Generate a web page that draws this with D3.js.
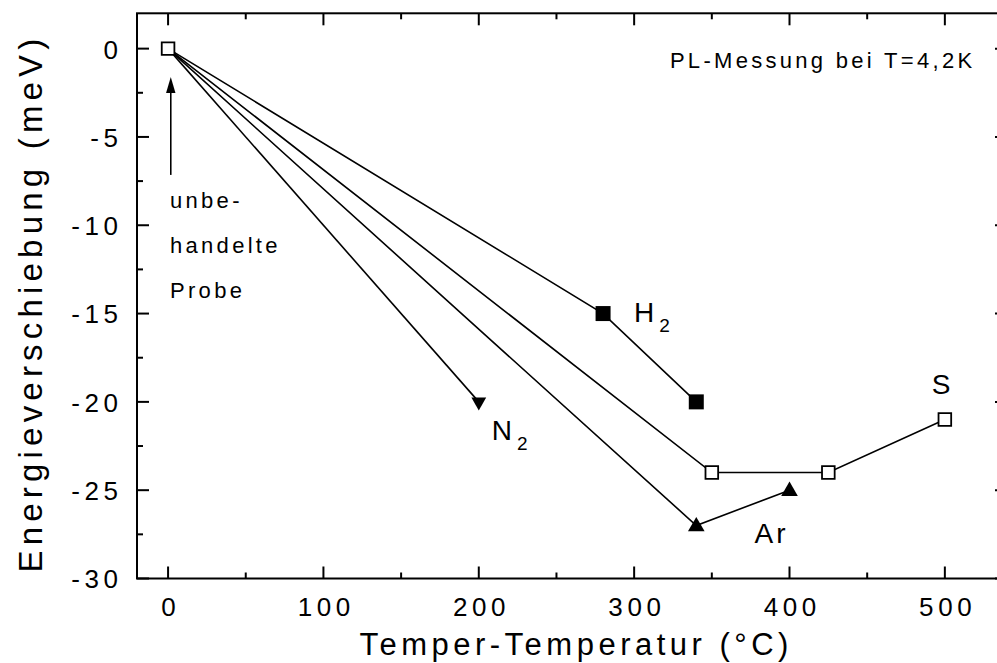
<!DOCTYPE html>
<html>
<head>
<meta charset="utf-8">
<script src="https://cdn.jsdelivr.net/npm/d3@7"></script>
<style>
  html, body { margin: 0; padding: 0; background: #fff; }
  svg { display: block; }
  text { font-family: "Liberation Sans", Arial, Helvetica, sans-serif; fill: #000; }
</style>
</head>
<body>
<svg id="chart" width="997" height="663"></svg>
<script>
// ---- data ----
const h2Temp = [0, 280, 340];
const h2Shift = [0, -15, -20];
const sTemp = [0, 350, 425, 500];
const sShift = [0, -24, -24, -21];
const arTemp = [0, 340, 400];
const arShift = [0, -27, -25];
const n2Temp = [0, 200];
const n2Shift = [0, -20];
const originPoint = [0, 0];

const xTicks = [0, 100, 200, 300, 400, 500];
const xMinorTicks = [50, 150, 250, 350, 450];
const yTicks = [0, -5, -10, -15, -20, -25, -30];
const yMinorTicks = [-2.5, -7.5, -12.5, -17.5, -22.5, -27.5];

const xTitle = "Temper-Temperatur (°C)";
const yTitle = "Energieverschiebung (meV)";
const noteText = "PL-Messung bei T=4,2K";
const sampleLabel = ["unbe-", "handelte", "Probe"];

(function () {
// ---- layout ----
const pLeft = 137, pRight = 1007, pTop = 13.3, pBottom = 578.5;
const svg = d3.select("#chart");

const x = d3.scaleLinear().domain([-20, 540]).range([pLeft, pRight]);
const y = d3.scaleLinear().domain([-30, 2]).range([pBottom, pTop]);

const majorLen = 12, minorLen = 6, axisW = 2;

// ---- frame ----
svg.append("rect")
  .attr("x", pLeft).attr("y", pTop)
  .attr("width", pRight - pLeft).attr("height", pBottom - pTop)
  .attr("fill", "none").attr("stroke", "#000").attr("stroke-width", axisW);

// ---- axes ----
const tickSize = 26, tickSpacing = 4.6;
const plainFmt = d => String(d);  // ASCII hyphen as in the reference

const xAxisB = d3.axisBottom(x).tickValues(xTicks).tickSize(0).tickFormat(plainFmt);
const gxb = svg.append("g").attr("transform", `translate(0,${pBottom})`).call(xAxisB);
gxb.select(".domain").remove();
gxb.selectAll("text")
  .attr("y", 37).attr("dy", 0)
  .attr("dx", tickSpacing / 2)
  .attr("fill", "#000")
  .style("font-size", tickSize + "px")
  .style("letter-spacing", tickSpacing + "px");

const yAxisL = d3.axisLeft(y).tickValues(yTicks).tickSize(0).tickFormat(plainFmt);
const gyl = svg.append("g").attr("transform", `translate(${pLeft},0)`).call(yAxisL);
gyl.select(".domain").remove();
gyl.selectAll("text")
  .attr("x", -19 + tickSpacing).attr("dy", "0.36em")
  .attr("fill", "#000")
  .style("font-size", tickSize + "px")
  .style("letter-spacing", tickSpacing + "px");

// inward ticks on all four sides
function ticksX(vals, len) {
  vals.forEach(v => {
    svg.append("line").attr("x1", x(v)).attr("x2", x(v))
      .attr("y1", pBottom).attr("y2", pBottom - len)
      .attr("stroke", "#000").attr("stroke-width", axisW);
    svg.append("line").attr("x1", x(v)).attr("x2", x(v))
      .attr("y1", pTop).attr("y2", pTop + len)
      .attr("stroke", "#000").attr("stroke-width", axisW);
  });
}
function ticksY(vals, len) {
  vals.forEach(v => {
    svg.append("line").attr("x1", pLeft).attr("x2", pLeft + len)
      .attr("y1", y(v)).attr("y2", y(v))
      .attr("stroke", "#000").attr("stroke-width", axisW);
    svg.append("line").attr("x1", pRight).attr("x2", pRight - len)
      .attr("y1", y(v)).attr("y2", y(v))
      .attr("stroke", "#000").attr("stroke-width", axisW);
  });
}
ticksX(xTicks, majorLen);
ticksX(xMinorTicks, minorLen);
ticksY(yTicks, majorLen);
ticksY(yMinorTicks, minorLen);

// ---- axis titles ----
svg.append("text")
  .attr("x", (356 + 792) / 2 + 2.2).attr("y", 655)
  .attr("text-anchor", "middle")
  .style("font-size", "31px").style("letter-spacing", "4.5px")
  .text(xTitle);

svg.append("text")
  .attr("transform", `translate(42,${(28 + 578) / 2}) rotate(-90)`)
  .attr("text-anchor", "middle")
  .style("font-size", "33px").style("letter-spacing", "5.2px")
  .text(yTitle);

// ---- lines ----
const line = d3.line().x(d => x(d[0])).y(d => y(d[1]));
const zip = (a, b) => a.map((v, i) => [v, b[i]]);
const allSeries = [
  zip(h2Temp, h2Shift), zip(sTemp, sShift), zip(arTemp, arShift), zip(n2Temp, n2Shift)
];
allSeries.forEach(s => {
  svg.append("path").attr("d", line(s))
    .attr("fill", "none").attr("stroke", "#000").attr("stroke-width", 1.6);
});

// ---- markers ----
const sqFilled = d3.symbol(d3.symbolSquare, 225)();
const sqOpen = d3.symbol(d3.symbolSquare, 160)();
const tri = d3.symbol(d3.symbolTriangle, 120)();
const triDown = d3.symbol(d3.symbolTriangle, 95)();

zip(h2Temp, h2Shift).slice(1).forEach(d => {
  svg.append("path").attr("d", sqFilled)
    .attr("transform", `translate(${x(d[0])},${y(d[1])})`).attr("fill", "#000");
});
zip(sTemp, sShift).slice(1).forEach(d => {
  svg.append("path").attr("d", sqOpen)
    .attr("transform", `translate(${x(d[0])},${y(d[1])})`)
    .attr("fill", "#fff").attr("stroke", "#000").attr("stroke-width", 1.8);
});
zip(arTemp, arShift).slice(1).forEach(d => {
  svg.append("path").attr("d", tri)
    .attr("transform", `translate(${x(d[0])},${y(d[1]) + 1})`).attr("fill", "#000");
});
zip(n2Temp, n2Shift).slice(1).forEach(d => {
  svg.append("path").attr("d", triDown)
    .attr("transform", `translate(${x(d[0])},${y(d[1])}) rotate(180)`).attr("fill", "#000");
});
svg.append("path").attr("d", sqOpen)
  .attr("transform", `translate(${x(originPoint[0])},${y(originPoint[1])})`)
  .attr("fill", "#fff").attr("stroke", "#000").attr("stroke-width", 1.8);

// ---- series labels ----
function label(px, py, main, sub) {
  const t = svg.append("text").attr("x", px).attr("y", py)
    .style("font-size", "28px").style("letter-spacing", "3px");
  t.append("tspan").text(main);
  if (sub) {
    t.append("tspan").attr("dx", 2).attr("dy", 10).style("font-size", "19px").text(sub);
  }
}
label(x(h2Temp[1]) + 31, y(h2Shift[1]) + 8, "H", "2");
label(x(n2Temp[1]) + 13, y(n2Shift[1]) + 38, "N", "2");
label(x(sTemp[3]) - 13, y(sShift[3]) - 26, "S");
label(x(arTemp[2]) - 35, y(arShift[2]) + 53, "Ar");

// ---- annotations ----
svg.append("text")
  .attr("x", x(323)).attr("y", y(0) + 19.5)
  .style("font-size", "22px").style("letter-spacing", "3.3px")
  .text(noteText);

sampleLabel.forEach((s, i) => {
  svg.append("text")
    .attr("x", 170).attr("y", 208 + i * 45)
    .style("font-size", "22px").style("letter-spacing", "3.3px")
    .text(s);
});

// arrow pointing to the untreated sample
const arrowX = x(originPoint[0]) + 2.7;
const arrowBottom = y(-7.15), arrowTip = y(-1.6);
svg.append("line")
  .attr("x1", arrowX).attr("x2", arrowX)
  .attr("y1", arrowBottom).attr("y2", arrowTip + 14)
  .attr("stroke", "#000").attr("stroke-width", 1.6);
svg.append("path")
  .attr("d", d3.line()([[arrowX, arrowTip], [arrowX - 4.7, arrowTip + 16], [arrowX + 4.7, arrowTip + 16]]) + "Z")
  .attr("fill", "#000");
})();
</script>
</body>
</html>
